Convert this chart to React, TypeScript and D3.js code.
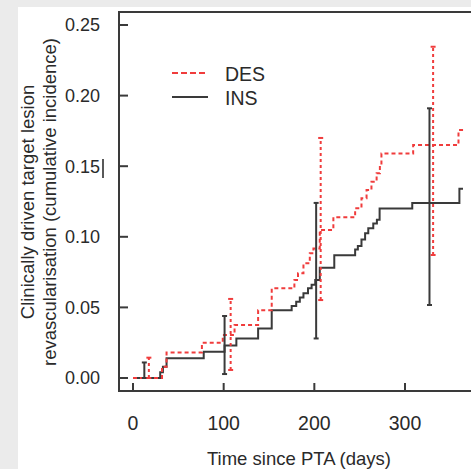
import React from 'react';
import * as d3 from 'd3';

// cumulative incidence step data
const insDays = [0, 30, 33, 37, 78, 101, 114, 138, 153, 175, 180, 184, 188, 193, 197, 201, 206, 222, 245, 248, 252, 256, 259.5, 265, 269, 272, 308, 360, 364];
const insValues = [0, 0.004, 0.008, 0.014, 0.0186, 0.023, 0.028, 0.035, 0.048, 0.051, 0.054, 0.057, 0.06, 0.0635, 0.066, 0.0694, 0.078, 0.087, 0.091, 0.0935, 0.098, 0.1025, 0.106, 0.1095, 0.112, 0.12, 0.124, 0.134, 0.134];

const desDays = [0, 32, 37, 76, 99, 112, 138, 153, 178, 182, 188, 195, 199, 206, 221, 245, 252, 257.6, 263, 268.7, 272.3, 274, 309, 359, 366];
const desValues = [0, 0.008, 0.018, 0.025, 0.0305, 0.0375, 0.048, 0.0635, 0.0694, 0.0741, 0.0812, 0.0883, 0.0918, 0.1048, 0.1138, 0.1202, 0.1273, 0.1331, 0.139, 0.145, 0.1508, 0.159, 0.165, 0.1756, 0.1756];

// confidence bars
const insBarDays = [12.5, 101, 202, 327];
const insBarLow = [0, 0.0028, 0.028, 0.0517];
const insBarHigh = [0.011, 0.0439, 0.124, 0.191];

const desBarDays = [17.5, 107.7, 207, 331];
const desBarLow = [0, 0.0057, 0.0552, 0.0871];
const desBarHigh = [0.0144, 0.056, 0.17, 0.2346];

const xTicks = [0, 100, 200, 300];
const yTicks = [0, 0.05, 0.1, 0.15, 0.2, 0.25];

const RED = '#f03c3c';
const DARK = '#3a3a3a';
const FONT = '"Liberation Sans", Arial, sans-serif';

export default function App() {
  const width = 471;
  const height = 469;
  const box = { left: 119, top: 12, right: 482, bottom: 391 };

  const x = d3.scaleLinear().domain([0, 300]).range([133, 405]);
  const y = d3.scaleLinear().domain([0, 0.25]).range([378, 25]);

  const step = d3.line<[number, number]>()
    .x(d => x(d[0]))
    .y(d => y(d[1]))
    .curve(d3.curveStepAfter);

  const insPath = step(insDays.map((d, i) => [d, insValues[i]]));
  const desPath = step(desDays.map((d, i) => [d, desValues[i]]));

  const bars = (days, lo, hi, color, dash, key) =>
    days.map((d, i) => (
      <g key={key + i}>
        <line x1={x(d)} x2={x(d)} y1={y(lo[i])} y2={y(hi[i])} stroke={color} strokeWidth={2} strokeDasharray={dash} />
        <line x1={x(d) - 2.5} x2={x(d) + 2.5} y1={y(hi[i])} y2={y(hi[i])} stroke={color} strokeWidth={2} />
        <line x1={x(d) - 2.5} x2={x(d) + 2.5} y1={y(lo[i])} y2={y(lo[i])} stroke={color} strokeWidth={2} />
      </g>
    ));

  return (
    <svg width={width} height={height} style={{ position: 'absolute', left: 0, top: 0 }} fontFamily={FONT}>
      <rect x={0} y={0} width={width} height={height} fill="#ebebeb" />
      <rect x={18} y={7} width={width - 18} height={height - 7} fill="#fff" />

      {/* frame */}
      <rect x={box.left} y={box.top} width={box.right - box.left} height={box.bottom - box.top} fill="none" stroke={DARK} strokeWidth={2} />

      {/* y ticks */}
      {yTicks.map(t => (
        <g key={'y' + t}>
          <line x1={box.left} x2={box.left + 9} y1={y(t)} y2={y(t)} stroke={DARK} strokeWidth={2} />
          <text x={100} y={y(t)} dy="0.36em" textAnchor="end" fontSize={18} fill="#2a2a2a">{t.toFixed(2)}</text>
        </g>
      ))}
      {/* stray cursor mark next to 0.15 */}
      <line x1={103} x2={103} y1={159} y2={178} stroke="#222" strokeWidth={1.5} />

      {/* x ticks */}
      {xTicks.map(t => (
        <g key={'x' + t}>
          <line x1={x(t)} x2={x(t)} y1={box.bottom} y2={box.bottom - 8} stroke={DARK} strokeWidth={2} />
          <text x={x(t)} y={430} textAnchor="middle" fontSize={19.5} fill="#2a2a2a">{t}</text>
        </g>
      ))}

      {/* axis titles */}
      <text transform="translate(34,202) rotate(-90)" textAnchor="middle" fontSize={18.5} fill="#2a2a2a">Clinically driven target lesion</text>
      <text transform="translate(56,202) rotate(-90)" textAnchor="middle" fontSize={18.5} fill="#2a2a2a">revascularisation (cumulative incidence)</text>
      <text x={299} y={465} textAnchor="middle" fontSize={18.5} fill="#2a2a2a">Time since PTA (days)</text>

      {/* curves */}
      <path d={insPath} fill="none" stroke={DARK} strokeWidth={2} />
      <path d={desPath} fill="none" stroke={RED} strokeWidth={2} strokeDasharray="4,3" />
      {bars(insBarDays, insBarLow, insBarHigh, DARK, null, 'ib')}
      {bars(desBarDays, desBarLow, desBarHigh, RED, '3,3', 'db')}

      {/* legend */}
      <line x1={172} x2={208} y1={73} y2={73} stroke={RED} strokeWidth={2} strokeDasharray="6,3" />
      <text x={225} y={81} fontSize={19.5} fill="#2a2a2a">DES</text>
      <line x1={172} x2={208} y1={97} y2={97} stroke={DARK} strokeWidth={2} />
      <text x={225} y={105} fontSize={19.5} fill="#2a2a2a">INS</text>
    </svg>
  );
}
